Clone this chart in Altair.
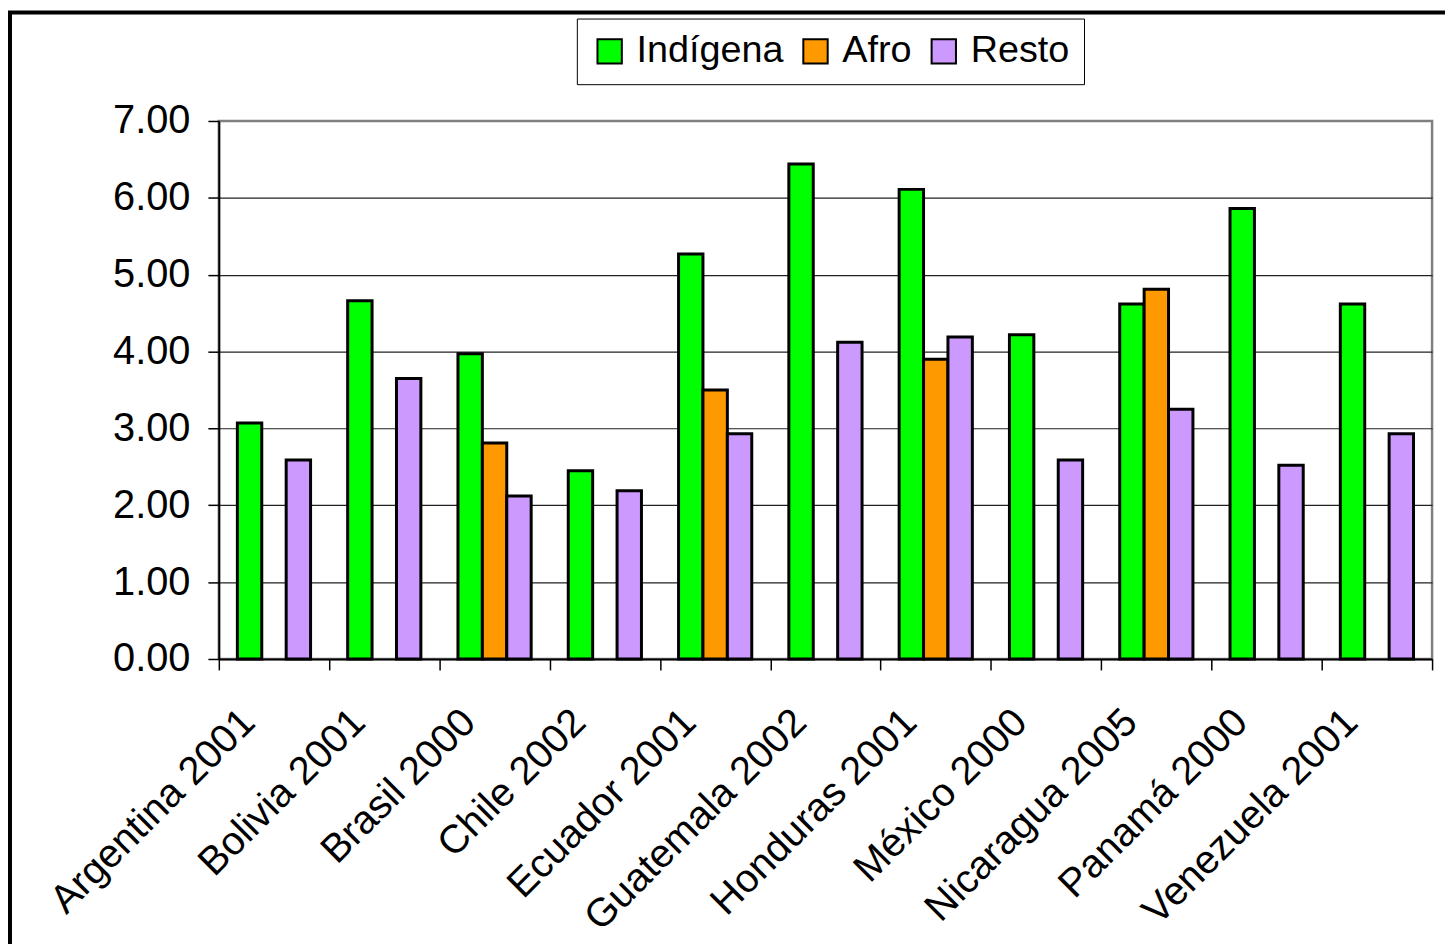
import altair as alt
import pandas as pd

countries = ["Argentina 2001", "Bolivia 2001", "Brasil 2000", "Chile 2002", "Ecuador 2001",
             "Guatemala 2002", "Honduras 2001", "México 2000", "Nicaragua 2005",
             "Panamá 2000", "Venezuela 2001"]
series = ["Indígena", "Afro", "Resto"]
colors = ["#00FF00", "#FF9900", "#CC99FF"]
indigena = [3.07, 4.66, 3.97, 2.45, 5.27, 6.44, 6.11, 4.22, 4.62, 5.86, 4.62]
afro = [None, None, 2.81, None, 3.50, None, 3.90, None, 4.81, None, None]
resto = [2.59, 3.65, 2.12, 2.19, 2.93, 4.12, 4.19, 2.59, 3.25, 2.52, 2.93]
y_ticks = [0, 1, 2, 3, 4, 5, 6, 7]

rows = []
for i, c in enumerate(countries):
    for s, vals in zip(series, [indigena, afro, resto]):
        if vals[i] is not None:
            rows.append({"pais": c, "grupo": s, "valor": vals[i]})
df = pd.DataFrame(rows)

FONT = "Liberation Sans"

bars = alt.Chart(df).mark_bar(stroke="black", strokeWidth=3).encode(
    x=alt.X("pais:N", sort=countries,
            scale=alt.Scale(paddingInner=0, paddingOuter=0),
            axis=alt.Axis(title=None, labelAngle=-45, labelAlign="right", labelBaseline="middle",
                          labelFontSize=40, labelFont=FONT, labelColor="black", labelLimit=500,
                          labelPadding=46, labelOffset=-26, tickBand="extent", tickSize=11,
                          tickColor="black", tickWidth=1.5, domainColor="black", domainWidth=2,
                          grid=False)),
    xOffset=alt.XOffset("grupo:N", sort=series,
                        scale=alt.Scale(domain=series, paddingInner=0, paddingOuter=0.76)),
    y=alt.Y("valor:Q", scale=alt.Scale(domain=[0, 7], nice=False),
            axis=alt.Axis(title=None, values=y_ticks, format=".2f", labelFontSize=40,
                          labelFont=FONT, labelColor="black", labelPadding=18, tickSize=11,
                          tickColor="black", tickWidth=1.5, domainColor="black", domainWidth=2,
                          grid=True,
                          gridColor={"condition": {"test": "datum.value === 7", "value": "#808080"},
                                     "value": "#222222"},
                          gridWidth=1.2)),
    color=alt.Color("grupo:N", sort=series,
                    scale=alt.Scale(domain=series, range=colors),
                    legend=alt.Legend(title=None, orient="none", legendX=360, legendY=-103,
                                      direction="horizontal", symbolType="square",
                                      symbolSize=600, symbolStrokeColor="black",
                                      symbolStrokeWidth=2, symbolOpacity=1,
                                      labelFontSize=38, labelFont=FONT, labelColor="black",
                                      labelOffset=8, columnPadding=13, padding=14,
                                      labelLimit=0, strokeColor="black", fillColor="white")),
)

frame = alt.Chart(pd.DataFrame({"f": [0]})).mark_rect(
    filled=False, stroke="black", strokeWidth=4
).encode(x=alt.value(-210), x2=alt.value(1400), y=alt.value(-109), y2=alt.value(1000))

chart = alt.layer(bars, frame).properties(
    width=1220, height=541,
    padding={"left": 212, "top": 111, "right": 13, "bottom": 284},
    autosize=alt.AutoSizeParams(type="none"),
    background="white",
).configure_view(stroke="#808080", strokeWidth=2.5)

chart.save("out.html", embed_options={"renderer": "svg", "actions": False})
